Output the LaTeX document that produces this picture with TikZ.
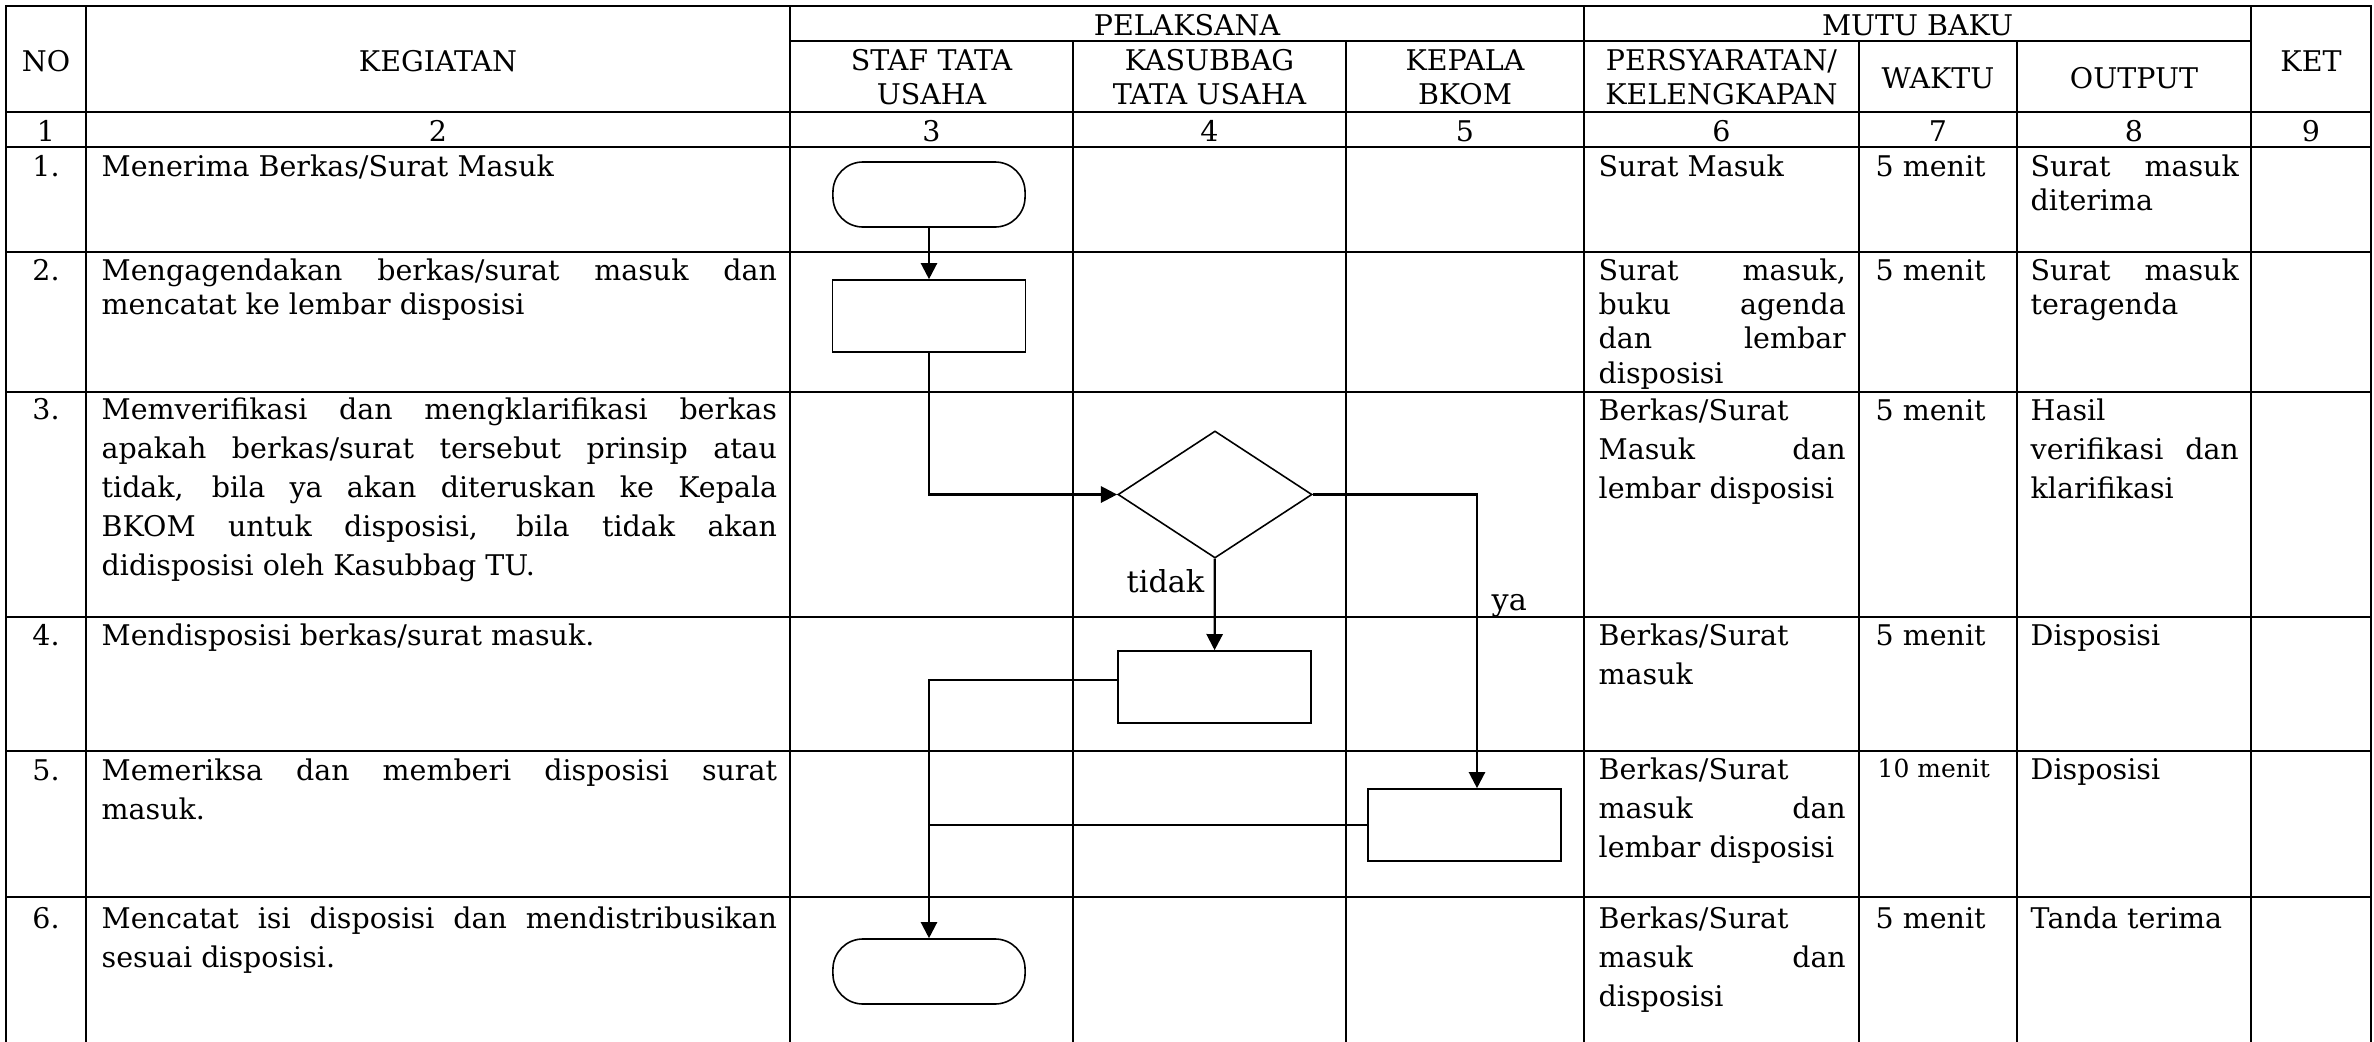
\documentclass[tikz,border=0pt]{standalone}
\usepackage{fontspec}
\setmainfont{DejaVu Serif}
\usepackage{tikz}
\usetikzlibrary{arrows.meta, shapes.geometric, calc}

\hyphenpenalty=10000
\exhyphenpenalty=10000
\tolerance=9999

\tikzset{
	garis/.style={line width=0.7pt, line cap=rect},
	isi/.style={inner sep=0pt, anchor=base west, align=justify, font=\fontsize{8.1}{9.8}\selectfont},
	isilebar/.style={isi, font=\fontsize{8.1}{11.1}\selectfont},
	judul/.style={inner sep=0pt, anchor=base, align=center, font=\fontsize{8.1}{9.7}\selectfont},
	judulduabaris/.style={judul, text width=2.6cm},
	terminal/.style={draw, line width=0.45pt, rounded corners=0.3cm, minimum width=1.92cm, minimum height=0.65cm},
	proses/.style={draw, line width=0.45pt, minimum width=1.93cm, minimum height=0.72cm},
	keputusan/.style={draw, diamond, line width=0.45pt, minimum width=1.94cm, minimum height=1.27cm, inner sep=0pt},
	alur/.style={line width=0.65pt, -{Triangle[length=4.6pt, width=4.6pt]}},
	keterangan/.style={inner sep=0pt, anchor=base west, font=\fontsize{8.6}{10}\selectfont},
}

\begin{document}
\begin{tikzpicture}[x=0.01cm, y=-0.01cm]
					%%% Bingkai
					\useasboundingbox (0,0) rectangle (2374,1042);
%					\draw [thin, help lines] (0,0) grid[step=100] (2374,1042);

					%%% Garis tabel
					\draw[garis] (6,6) -- (2371,6);
					\draw[garis] (790,41) -- (2251,41);	% bawah PELAKSANA / MUTU BAKU
					\foreach \y in {112, 147, 252, 392, 617, 751, 897}
					\draw[garis] (6,\y) -- (2371,\y);
					\foreach \x in {6, 86, 790, 1584, 2251, 2371}
					\draw[garis] (\x,6) -- (\x,1042);
					\foreach \x in {1073, 1346, 1859, 2017}
					\draw[garis] (\x,41) -- (\x,1042);

					%%% Kepala tabel
					\node[judul] (no) at (46,71) {NO};
					\node[judul] (kegiatan) at (438,71) {KEGIATAN};
					\node[judul] (pelaksana) at (1187,35) {PELAKSANA};
					\node[judul] (mutubaku) at (1917.5,35) {MUTU BAKU};
					\node[judul] (ket) at (2311,71) {KET};
					\node[judulduabaris] (staf) at (931.5,70) {STAF TATA\\USAHA};
					\node[judulduabaris] (kasubbag) at (1209.5,70) {KASUBBAG\\TATA USAHA};
					\node[judulduabaris] (kepala) at (1465,70) {KEPALA\\BKOM};
					\node[judulduabaris] (syarat) at (1721.5,70) {PERSYARATAN/\\KELENGKAPAN};
					\node[judul] (waktu) at (1938,88) {WAKTU};
					\node[judul] (output) at (2134,88) {OUTPUT};

					%%% Nomor kolom
					\foreach \x/\n in {46/1, 438/2, 931.5/3, 1209.5/4, 1465/5, 1721.5/6, 1938/7, 2134/8, 2311/9}
					\node[judul] (kolom\n) at (\x,141) {\n};

					%%% Nomor baris
					\foreach \y/\n in {176/1, 280/2, 419/3, 645/4, 780/5, 928/6}
					\node[judul] (baris\n) at (46,\y) {\n.};

					%%% Kegiatan
					\node[isi, text width=6.75cm] (keg1) at (101,176) {Menerima Berkas/Surat Masuk};
					\node[isi, text width=6.75cm] (keg2) at (101,280) {Mengagendakan berkas/surat masuk dan\linebreak mencatat ke lembar disposisi};
					\node[isilebar, text width=6.75cm] (keg3) at (101,419) {Memverifikasi dan mengklarifikasi berkas\linebreak apakah berkas/surat tersebut prinsip atau\linebreak tidak, bila ya akan diteruskan ke Kepala\linebreak BKOM untuk disposisi, bila tidak akan\linebreak didisposisi oleh Kasubbag TU.};
					\node[isilebar, text width=6.75cm] (keg4) at (101,645) {Mendisposisi berkas/surat masuk.};
					\node[isilebar, text width=6.75cm] (keg5) at (101,780) {Memeriksa dan memberi disposisi surat\linebreak masuk.};
					\node[isilebar, text width=6.75cm] (keg6) at (101,928) {Mencatat isi disposisi dan mendistribusikan\linebreak sesuai disposisi.};

					%%% Persyaratan / kelengkapan
					\node[isi, text width=2.47cm] (syarat1) at (1598,176) {Surat Masuk};
					\node[isi, text width=2.47cm] (syarat2) at (1598,280) {Surat masuk,\linebreak buku agenda\linebreak dan lembar\linebreak disposisi};
					\node[isilebar, text width=2.47cm] (syarat3) at (1598,420) {Berkas/Surat\linebreak Masuk dan\linebreak lembar disposisi};
					\node[isilebar, text width=2.47cm] (syarat4) at (1598,645) {Berkas/Surat\linebreak masuk};
					\node[isilebar, text width=2.47cm] (syarat5) at (1598,779) {Berkas/Surat\linebreak masuk dan\linebreak lembar disposisi};
					\node[isilebar, text width=2.47cm] (syarat6) at (1598,928) {Berkas/Surat\linebreak masuk dan\linebreak disposisi};

					%%% Waktu
					\foreach \y/\n in {176/1, 280/2, 420/3, 645/4, 928/6}
					\node[isi] (waktu\n) at (1875,\y) {5 menit};
					\node[isi, font=\fontsize{7.1}{9}\selectfont] (waktu5) at (1877,777) {10 menit};

					%%% Output
					\node[isi, text width=2.08cm] (hasil1) at (2030,176) {Surat masuk\linebreak diterima};
					\node[isi, text width=2.08cm] (hasil2) at (2030,280) {Surat masuk\linebreak teragenda};
					\node[isilebar, text width=2.08cm] (hasil3) at (2030,420) {Hasil\linebreak verifikasi dan\linebreak klarifikasi};
					\node[isilebar, text width=2.08cm] (hasil4) at (2030,645) {Disposisi};
					\node[isilebar, text width=2.08cm] (hasil5) at (2030,779) {Disposisi};
					\node[isilebar, text width=2.08cm] (hasil6) at (2030,928) {Tanda terima};

					%%% Bagan alir
					\node[terminal] (mulai) at (929,194.5) {};
					\node[proses] (agenda) at (929,316) {};
					\node[keputusan] (verifikasi) at (1215,494.5) {};
					\node[proses] (disposisi) at (1214.5,687) {};
					\node[proses] (periksa) at (1464.5,825) {};
					\node[terminal] (selesai) at (929,971.5) {};

					%%% Panah
					\draw[alur] (mulai) -- (agenda);
					\draw[alur] (agenda) |- (verifikasi);
					\draw[alur] (verifikasi) -- (disposisi);
					\draw[alur] (verifikasi.east) -| ([xshift=0.125cm]periksa.north);
					\draw[alur] ([yshift=0.07cm]disposisi.west) -| (selesai);
					\draw[line width=0.65pt] (periksa.west) -- (periksa.west -| selesai);	% bertemu garis ke selesai

					\node[keterangan] (tidak) at (1126,592) {tidak};
					\node[keterangan] (ya) at (1491,610) {ya};
\end{tikzpicture}
\end{document}
